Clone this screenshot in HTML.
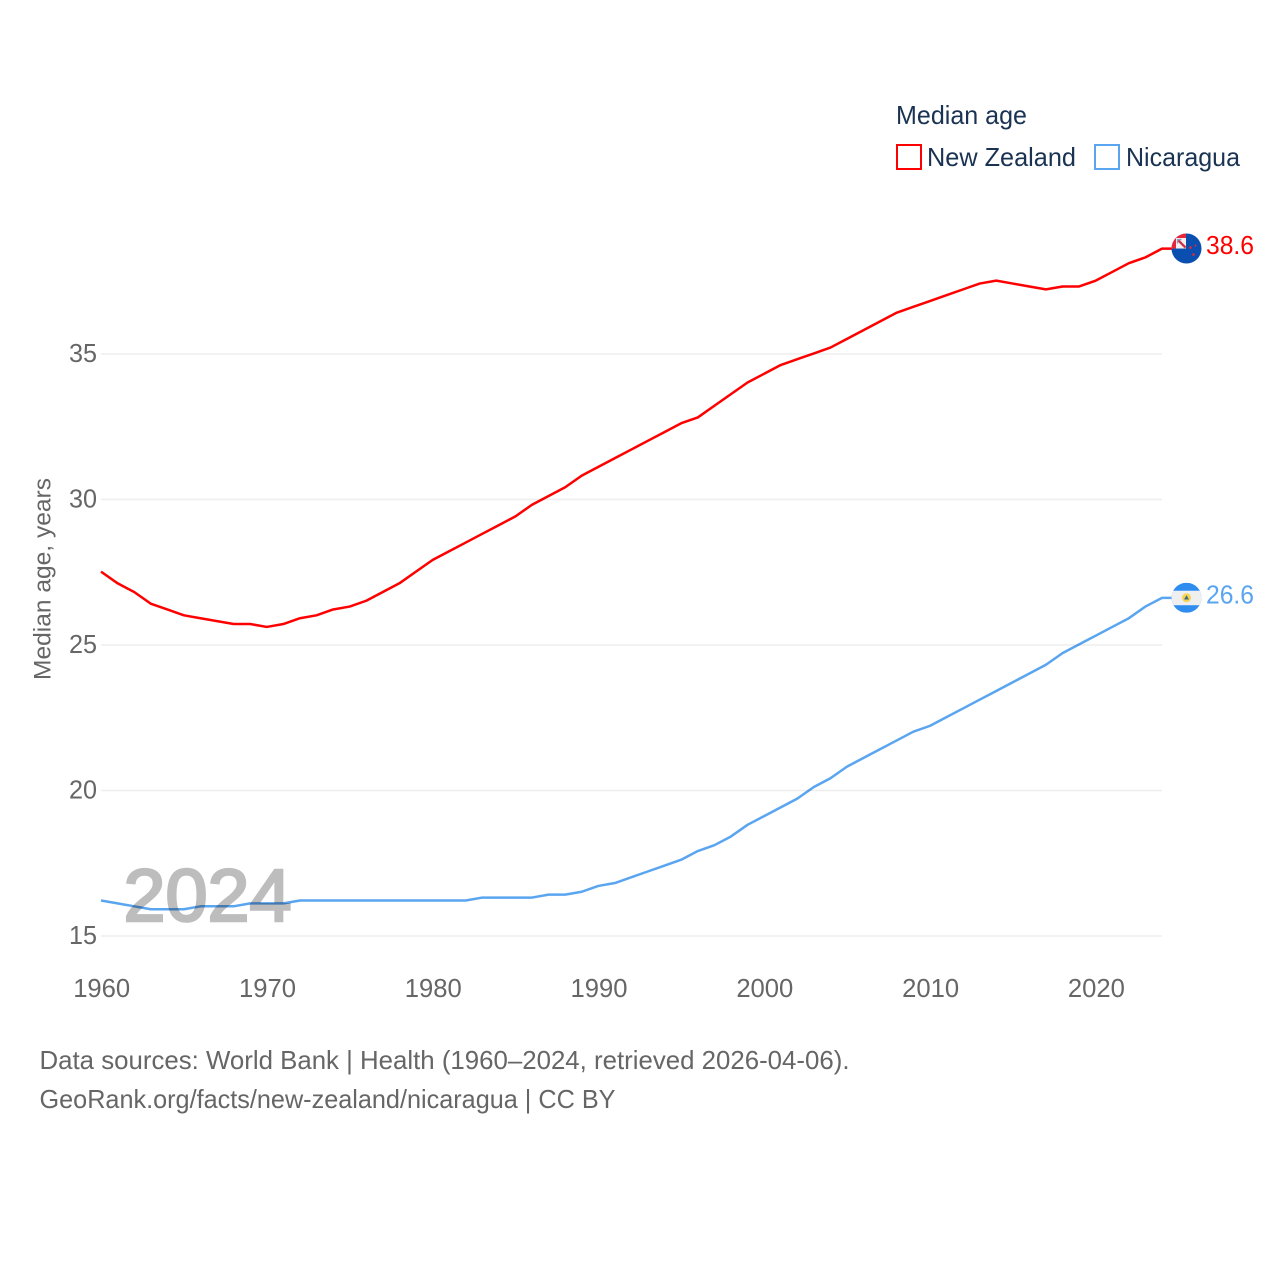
<!DOCTYPE html>
<html lang="en">
<head>
<meta charset="utf-8">
<title>Median age: New Zealand and Nicaragua</title>
<style>
html,body{margin:0;padding:0;background:#fff;width:1280px;height:1280px;overflow:hidden}
svg{display:block;font-family:"Liberation Sans",sans-serif}
</style>
</head>
<body>
<svg id="chart" xmlns="http://www.w3.org/2000/svg" width="1280" height="1280" viewBox="0 0 1280 1280">
  <defs>
    <clipPath id="nz-clip"><circle cx="0" cy="0" r="15"/></clipPath>
    <clipPath id="ni-clip"><circle cx="0" cy="0" r="15"/></clipPath>
  </defs>
  <rect width="1280" height="1280" fill="#fff"/>
  <g id="grid"></g>
  <g id="yticks"></g>
  <g id="xticks"></g>
  <text transform="translate(50.5 680) rotate(-90)" font-size="24.5" fill="#666" textLength="202" lengthAdjust="spacingAndGlyphs">Median age, years</text>
  <text x="123.5" y="921" font-size="74" font-weight="400" fill="#bdbdbd" stroke="#bdbdbd" stroke-width="2.6" textLength="168" lengthAdjust="spacingAndGlyphs">2024</text>
  <g id="series" transform="translate(0 -0.6)"></g>
  <g id="flag-nz">
    <g clip-path="url(#nz-clip)">
      <rect x="-15" y="-15" width="30" height="30" fill="#0a4fb0"/>
      <rect x="-15" y="-15" width="14.5" height="15" fill="#f6eef0"/>
      <path d="M-15-15H-0.5V-10.5H-10.5V0H-15z" fill="#e8263a"/>
      <path d="M-8.5-8.5L-1-1" stroke="#c9344a" stroke-width="2.4"/>
      <path d="M-9-5V-9H-5" stroke="#8f9fc4" stroke-width="1.4" fill="none"/>
      <circle cx="4" cy="-1" r="1.3" fill="#e8263a"/>
      <circle cx="9" cy="-3" r="1" fill="#e8263a"/>
      <circle cx="7" cy="6" r="1.3" fill="#e8263a"/>
    </g>
  </g>
  <g id="flag-ni">
    <g clip-path="url(#ni-clip)">
      <rect x="-15" y="-15" width="30" height="30" fill="#2f8df0"/>
      <rect x="-15" y="-7" width="30" height="14.5" fill="#efefef"/>
      <circle cx="0" cy="0" r="4.5" fill="#f7d352"/>
      <path d="M-2.5 1.8L0-2.5 2.5 1.8z" fill="#3c6a8c"/>
    </g>
  </g>
  <text id="val-nz" x="1206" font-size="26" fill="#ff0000" textLength="48" lengthAdjust="spacingAndGlyphs"></text>
  <text id="val-ni" x="1206" font-size="26" fill="#5aa5f0" textLength="48" lengthAdjust="spacingAndGlyphs"></text>
  <g>
    <text x="896" y="124" font-size="26" fill="#1a3353" textLength="131" lengthAdjust="spacingAndGlyphs">Median age</text>
    <rect x="897" y="145" width="24" height="24" fill="#fff" stroke="#ff0000" stroke-width="2"/>
    <text x="927" y="166" font-size="26" fill="#1a3353" textLength="149" lengthAdjust="spacingAndGlyphs">New Zealand</text>
    <rect x="1095" y="145" width="24" height="24" fill="#fff" stroke="#5aa5f0" stroke-width="2"/>
    <text x="1126" y="166" font-size="26" fill="#1a3353" textLength="114" lengthAdjust="spacingAndGlyphs">Nicaragua</text>
  </g>
  <text x="39.5" y="1069" font-size="26" fill="#666" textLength="810" lengthAdjust="spacingAndGlyphs">Data sources: World Bank | Health (1960–2024, retrieved 2026-04-06).</text>
  <text x="39.5" y="1108" font-size="26" fill="#666" textLength="576" lengthAdjust="spacingAndGlyphs">GeoRank.org/facts/new-zealand/nicaragua | CC BY</text>
</svg>
<script>
const startYear = 1960;
const newZealand = [27.5,27.1,26.8,26.4,26.2,26.0,25.9,25.8,25.7,25.7,25.6,25.7,25.9,26.0,26.2,26.3,26.5,26.8,27.1,27.5,27.9,28.2,28.5,28.8,29.1,29.4,29.8,30.1,30.4,30.8,31.1,31.4,31.7,32.0,32.3,32.6,32.8,33.2,33.6,34.0,34.3,34.6,34.8,35.0,35.2,35.5,35.8,36.1,36.4,36.6,36.8,37.0,37.2,37.4,37.5,37.4,37.3,37.2,37.3,37.3,37.5,37.8,38.1,38.3,38.6];
const nicaragua = [16.2,16.1,16.0,15.9,15.9,15.9,16.0,16.0,16.0,16.1,16.1,16.1,16.2,16.2,16.2,16.2,16.2,16.2,16.2,16.2,16.2,16.2,16.2,16.3,16.3,16.3,16.3,16.4,16.4,16.5,16.7,16.8,17.0,17.2,17.4,17.6,17.9,18.1,18.4,18.8,19.1,19.4,19.7,20.1,20.4,20.8,21.1,21.4,21.7,22.0,22.2,22.5,22.8,23.1,23.4,23.7,24.0,24.3,24.7,25.0,25.3,25.6,25.9,26.3,26.6];
const yTickValues = [15,20,25,30,35];
const xTickValues = [1960,1970,1980,1990,2000,2010,2020];

const NS = 'http://www.w3.org/2000/svg';
function xScale(year){ return 101 + (year - 1960) * (1162 - 101) / 64; }
function yScale(v){ return 936 - (v - 15) * (936 - 354) / 20; }
function make(tag, attrs, parent){
  const el = document.createElementNS(NS, tag);
  for (const k in attrs) el.setAttribute(k, attrs[k]);
  parent.appendChild(el);
  return el;
}

const grid = document.getElementById('grid');
const yticks = document.getElementById('yticks');
yTickValues.forEach(function(v){
  const line = make('line', {x1:101, x2:1162, y1:yScale(v), y2:yScale(v), stroke:'#eeeeee', 'stroke-width':1.6}, grid);
  
  
  const t = make('text', {x:97, y:yScale(v) + 8, 'text-anchor':'end', 'font-size':26, fill:'#666', textLength:28, lengthAdjust:'spacingAndGlyphs'}, yticks);
  
  
  t.textContent = v;
});

const xticks = document.getElementById('xticks');
xTickValues.forEach(function(y){
  const t = make('text', {x:xScale(y) + 0.7, y:997, 'text-anchor':'middle', 'font-size':26, fill:'#666', textLength:57, lengthAdjust:'spacingAndGlyphs'}, xticks);
  
  
  t.textContent = y;
});

const seriesGroup = document.getElementById('series');
function drawSeries(values, color, name, flagId, labelId){
  const pts = values.map(function(v, i){ return xScale(startYear + i).toFixed(2) + ',' + yScale(v).toFixed(2); });
  const last = yScale(values[values.length - 1]);
  pts.push((xScale(startYear + values.length - 1) + 10).toFixed(2) + ',' + last.toFixed(2));
  const line = make('polyline', {points:pts.join(' '), fill:'none', stroke:color, 'stroke-width':2.5, 'stroke-linejoin':'round', style:'mix-blend-mode:multiply'}, seriesGroup);
  
  
  document.getElementById(flagId).setAttribute('transform', 'translate(1186.5 ' + (last - 0.7) + ')');
  const label = document.getElementById(labelId);
  label.setAttribute('y', last + 5);
  label.textContent = values[values.length - 1].toFixed(1);
}
drawSeries(newZealand, '#ff0000', 'new-zealand', 'flag-nz', 'val-nz');
drawSeries(nicaragua, '#5aa5f0', 'nicaragua', 'flag-ni', 'val-ni');
</script>
</body>
</html>
